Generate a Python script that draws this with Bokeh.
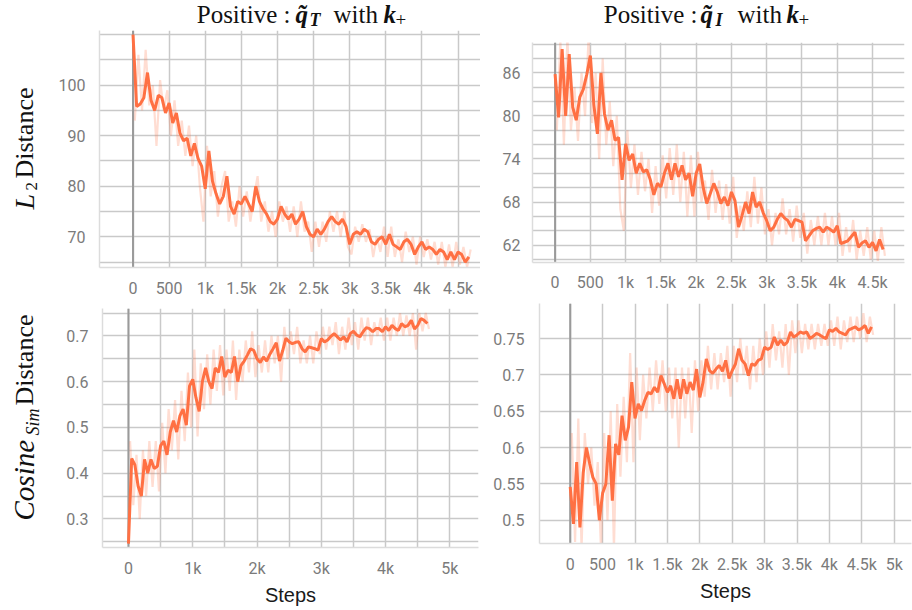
import numpy as np
from bokeh.plotting import figure
from bokeh.layouts import column, row
from bokeh.models import FixedTicker, CustomJSTickFormatter, Span, Range1d
from bokeh.core.properties import value
from bokeh.embed import file_html
from bokeh.resources import INLINE

# ---------------- data ----------------
steps = np.arange(0, 4700, 50)        # smoothed curve steps
raw_steps = np.arange(25, 4700, 50)   # raw (faint) curve steps

l2_qt_smooth = [
    110, 95.8, 96.3, 97.5, 102.5, 97, 95, 98, 97.5, 94.5,
    96.5, 92.5, 94.5, 90.5, 89, 89.5, 86, 88.5, 85.5, 84,
    79.5, 87, 81, 78.5, 76.5, 78, 82, 76, 74.5, 77,
    76.5, 78, 76.5, 75, 80, 77, 75.5, 74.5, 73, 72.5,
    73.5, 76, 74.5, 73.5, 74.5, 72.5, 73.5, 75, 72, 70.5,
    70, 71.5, 70.5, 71.5, 73, 74, 73, 72.5, 73.5, 72,
    68.5, 70.5, 71, 70.5, 71.5, 71, 69, 68.5, 69.5, 70,
    68.5, 70.5, 68.5, 68, 67.5, 69, 69.5, 68.5, 66.5, 68,
    69, 67.5, 68, 67.5, 66.5, 67.5, 67, 65.5, 67, 65.5,
    67, 66.5, 65, 66]
l2_qt_raw = [
    93, 106, 95, 107, 96, 100, 88, 101, 95, 99,
    90, 97, 88, 93, 86, 92, 84, 90, 80, 73,
    88, 78, 83, 74, 80, 83, 73, 77, 72, 80,
    74, 79, 73, 78, 82, 73, 77, 71, 75, 70,
    77, 73, 76, 71, 76, 70, 77, 71, 73, 67,
    73, 68, 73, 69, 75, 71, 75, 70, 75, 68,
    66.5, 72, 69, 72.5, 69, 71.5, 66, 70, 67, 72,
    66, 72, 66, 69.5, 65, 71, 67, 70, 64.5, 70,
    66, 69.5, 65.5, 69, 64.5, 69, 64, 68.5, 64, 69,
    64.5, 68, 64, 67.5]

l2_qi_smooth = [
    85.8, 79.8, 89.3, 80.0, 88.6, 81.2, 79.4, 82.6, 83.7, 85.8,
    88.4, 81.5, 77.5, 86, 80.3, 78, 79.4, 76.6, 77, 71.1,
    76.1, 73.8, 74.7, 72, 73.4, 72.2, 72.5, 71.1, 69, 70.6,
    70.1, 72, 73.4, 71.1, 73.4, 71.5, 73.1, 71.1, 72, 68.8,
    72, 73.3, 70, 67.8, 69.2, 70.6, 69.4, 67.8, 68.7, 67.5,
    69.4, 68.2, 64.5, 66.1, 68, 66.4, 69.4, 67.3, 68, 66.5,
    65.4, 64, 64.5, 65.6, 66.4, 65.8, 65.4, 64.5, 65.6, 65.4,
    65.2, 62.6, 63.3, 64, 64.3, 64.5, 63.8, 64.5, 64.2, 63.8,
    64.7, 62.2, 62.4, 62.6, 63.2, 63.8, 61.7, 62.3, 62.6, 61.7,
    62.4, 61.2, 62.8, 61.4]
l2_qi_raw = [
    78, 90.5, 76, 91, 78, 84, 76.5, 86, 80, 91,
    79, 86, 74, 88, 76, 82, 73, 80, 67, 64,
    78, 70, 76, 69, 75, 69.5, 74, 66.5, 73, 67.5,
    74.5, 68.5, 75.5, 69, 76, 68, 75, 66, 74.5, 66,
    75, 68, 71, 65.5, 72.5, 66.5, 71, 65.5, 70.5, 65,
    71.5, 63, 67.5, 64, 69.5, 64.5, 71.5, 65, 70, 63.5,
    67, 62, 66.5, 63.5, 68.5, 63.5, 67, 62.5, 67.5, 63,
    66.5, 60.8, 65.5, 62, 66, 62, 66.5, 62, 66, 62,
    66.5, 60.5, 64.5, 61, 65.5, 60, 64, 60.5, 64.5, 60,
    64, 59.8, 64.5, 60.5]

cos_qt_smooth = [
    .246, .432, .418, .372, .35, .43, .40, .43, .41, .415,
    .46, .47, .44, .49, .515, .49, .525, .54, .505, .59,
    .605, .565, .535, .6, .63, .6, .585, .63, .62, .655,
    .61, .625, .62, .655, .6, .635, .645, .658, .672, .668,
    .65, .642, .654, .645, .66, .672, .685, .645, .668, .695,
    .687, .683, .686, .687, .672, .665, .676, .674, .672, .669,
    .694, .687, .691, .699, .705, .698, .691, .698, .687, .705,
    .71, .702, .698, .709, .718, .716, .709, .716, .716, .709,
    .72, .712, .723, .716, .712, .727, .72, .723, .734, .715,
    .723, .738, .734, .727]
cos_qt_raw = [
    .47, .33, .44, .30, .45, .35, .47, .37, .47, .36,
    .51, .40, .54, .45, .56, .43, .58, .47, .62, .50,
    .67, .48, .64, .54, .66, .55, .67, .58, .68, .57,
    .67, .58, .69, .56, .67, .60, .69, .62, .71, .61,
    .68, .62, .69, .62, .70, .64, .70, .60, .72, .65,
    .71, .66, .72, .64, .69, .64, .70, .64, .71, .66,
    .72, .67, .72, .68, .73, .66, .72, .67, .74, .68,
    .73, .67, .74, .69, .74, .68, .73, .70, .74, .69,
    .74, .69, .74, .70, .75, .70, .745, .70, .75, .67,
    .75, .71, .75, .715]

cos_qi_smooth = [
    .546, .495, .58, .49, .565, .60, .578, .559, .55, .50,
    .537, .55, .617, .527, .605, .59, .644, .61, .628, .69,
    .64, .66, .651, .665, .676, .674, .683, .676, .699, .688,
    .676, .685, .667, .694, .667, .694, .674, .69, .679, .708,
    .669, .69, .722, .706, .702, .708, .713, .705, .72, .695,
    .706, .715, .736, .72, .715, .699, .715, .713, .72, .722,
    .738, .735, .738, .752, .741, .748, .741, .745, .759, .752,
    .755, .759, .757, .759, .75, .753, .757, .755, .752, .75,
    .762, .76, .764, .759, .757, .755, .762, .764, .766, .762,
    .764, .768, .757, .766]
cos_qi_raw = [
    .62, .47, .64, .46, .62, .55, .60, .52, .58, .46,
    .62, .50, .65, .46, .66, .56, .67, .58, .73, .58,
    .71, .61, .70, .64, .71, .65, .72, .66, .72, .65,
    .71, .64, .71, .60, .71, .64, .71, .62, .72, .65,
    .72, .67, .74, .68, .73, .68, .73, .69, .74, .67,
    .74, .69, .75, .70, .74, .68, .74, .69, .75, .70,
    .76, .71, .77, .72, .76, .71, .77, .70, .775, .73,
    .775, .73, .77, .735, .77, .735, .77, .74, .77, .74,
    .775, .74, .78, .735, .775, .745, .78, .745, .78, .75,
    .785, .745, .78, .755]

# tick positions
x_ticks_500 = [0, 500, 1000, 1500, 2000, 2500, 3000, 3500, 4000, 4500, 5000]
x_ticks_1k = [0, 1000, 2000, 3000, 4000, 5000]
x_minor_1k = [500, 1500, 2500, 3500, 4500]
tl_yticks = [70, 80, 90, 100]
tl_yminor = [65, 75, 85, 95, 105, 110]
tr_yticks = [62, 68, 74, 80, 86]
tr_yminor = [60, 64, 66, 70, 72, 76, 78, 82, 84, 88, 90]
bl_yticks = [0.3, 0.4, 0.5, 0.6, 0.7]
bl_yminor = [0.25, 0.35, 0.45, 0.55, 0.65, 0.75]
br_yticks = [0.5, 0.55, 0.6, 0.65, 0.7, 0.75]

# text pieces: (text, style, size)
title_qt = [("Positive :", "normal", 25), ("q\u0303", "bold italic", 25), ("T", "bold italic", 18),
            ("with", "normal", 25), ("k", "bold italic", 25), ("+", "normal", 19)]
title_qi = [("Positive :", "normal", 25), ("q\u0303", "bold italic", 25), ("I", "bold italic", 18),
            ("with", "normal", 25), ("k", "bold italic", 25), ("+", "normal", 19)]
ylab_l2 = [("L", "italic", 28), ("2", "normal", 17), ("Distance", "normal", 26)]
ylab_cos = [("Cosine", "italic", 29), ("Sim", "italic", 18), ("Distance", "normal", 26)]

ORANGE = "#ff7043"
GRID = "#c9c9c9"
SERIF = "Liberation Serif"
XFMT = "if (tick == 0) return '0'; if (Math.abs(tick) >= 1000) return (tick/1000) + 'k'; return String(tick);"
INT_FMT = "return String(Math.round(tick));"
DEC_FMT = "return String(Math.round(tick*100)/100);"
BASE_SHIFT = 0.33   # em offset between requested and drawn baseline


def no_align(p):
    try:
        p.frame_align = False
    except Exception:
        pass


def text_strip(w, h):
    # blank figure whose data units are pixels (origin bottom-left) used to hold text
    p = figure(width=w, height=h, output_backend="svg", toolbar_location=None,
               x_range=Range1d(0, w), y_range=Range1d(0, h), min_border=0)
    p.axis.visible = False
    p.grid.visible = False
    p.outline_line_color = None
    p.background_fill_color = "white"
    p.border_fill_color = "white"
    no_align(p)
    return p


def add_pieces(p, pieces, anchors, rotated=False):
    # anchors: (x, y, align) of each piece's baseline start, pixel units of the strip
    for (txt, style, size), (ax, ay, align) in zip(pieces, anchors):
        d = BASE_SHIFT * size
        if rotated:
            x, y, ang = ax - d, ay, np.pi / 2
        else:
            x, y, ang = ax, ay + d, 0.0
        p.text(x=[x], y=[y], text=[txt], text_font=value(SERIF), text_font_style=style,
               text_font_size=f"{size}px", text_color="#111111", text_align=align,
               text_baseline="alphabetic", angle=ang)


def panel(xr, yr, size, mb, xticks, xminor, yticks, yminor, yfmt, smooth, raw,
          xlabel=None, y_standoff=14, x_standoff=11):
    p = figure(width=size[0], height=size[1], output_backend="svg", toolbar_location=None,
               x_range=Range1d(*xr), y_range=Range1d(*yr),
               min_border_left=mb[0], min_border_right=mb[1],
               min_border_top=mb[2], min_border_bottom=mb[3])
    no_align(p)
    p.outline_line_color = None
    p.background_fill_color = "white"
    p.border_fill_color = "white"

    p.xaxis.ticker = FixedTicker(ticks=xticks, minor_ticks=xminor)
    p.yaxis.ticker = FixedTicker(ticks=yticks, minor_ticks=yminor)
    p.xaxis.formatter = CustomJSTickFormatter(code=XFMT)
    p.yaxis.formatter = CustomJSTickFormatter(code=yfmt)
    for ax in (p.xaxis[0], p.yaxis[0]):
        ax.major_tick_out = 0
        ax.major_tick_in = 0
        ax.minor_tick_out = 0
        ax.minor_tick_in = 0
        ax.axis_line_color = "#dcdcdc"
        ax.axis_line_width = 1.5
        ax.major_label_text_font = "Roboto"
        ax.major_label_text_font_size = "16px"
        ax.major_label_text_color = "#7b7b7b"
    p.xaxis.major_label_standoff = x_standoff
    p.yaxis.major_label_standoff = y_standoff

    for g in (p.xgrid[0], p.ygrid[0]):
        g.grid_line_color = GRID
        g.grid_line_width = 1.5
        g.minor_grid_line_color = GRID
        g.minor_grid_line_width = 1.5

    if xlabel:
        p.xaxis.axis_label = xlabel
        p.xaxis.axis_label_text_font = "Liberation Sans"
        p.xaxis.axis_label_text_font_style = "normal"
        p.xaxis.axis_label_text_font_size = "20px"
        p.xaxis.axis_label_text_color = "#1a1a1a"
        p.xaxis.axis_label_standoff = 3

    p.add_layout(Span(location=0, dimension="height", line_color="#9a9a9a",
                      line_width=2, level="underlay"))
    p.line(raw_steps, raw, line_color=ORANGE, line_alpha=0.24, line_width=2.2)
    p.line(steps, smooth, line_color=ORANGE, line_width=3)
    return p


# layout: header strip (30 px) / row 1 (270 px) / row 2 (310 px); left label strip 55 px
header = text_strip(912, 30)
ylab_top = text_strip(55, 270)
ylab_bot = text_strip(55, 310)

tl = panel((-464, 4811), (63.92, 110.83), (425, 270), (42, 0, 0, 33),
           x_ticks_500, [], tl_yticks, tl_yminor, INT_FMT, l2_qt_smooth, l2_qt_raw,
           y_standoff=14)
tr = panel((-320, 4953), (59.58, 90.22), (432, 270), (52, 8, 12, 38),
           x_ticks_500, [], tr_yticks, tr_yminor, INT_FMT, l2_qi_smooth, l2_qi_raw,
           y_standoff=12, x_standoff=10)
bl = panel((-404, 5446), (0.2375, 0.7599), (425, 310), (47, 2, 8, 63),
           x_ticks_1k, x_minor_1k, bl_yticks, bl_yminor, DEC_FMT, cos_qt_smooth, cos_qt_raw,
           xlabel="Steps", y_standoff=14)
br = panel((-474, 5267), (0.468, 0.7982), (432, 310), (59, 1, 3, 67),
           x_ticks_500, [], br_yticks, [], DEC_FMT, cos_qi_smooth, cos_qi_raw,
           xlabel="Steps", y_standoff=15)

# titles (header strip: pixel units, y up from the strip's bottom; baseline ~22.5 px from top)
add_pieces(header, title_qt, [(290, 7.5, "right"), (295, 7.5, "left"), (309, 5, "left"),
                              (333, 7.5, "left"), (383, 7.5, "left"), (395, 5.2, "left")])
add_pieces(header, title_qi, [(697, 7.5, "right"), (700, 7.5, "left"), (715, 5, "left"),
                              (737, 7.5, "left"), (786, 7.5, "left"), (798, 5.2, "left")])
# rotated y-axis labels (label strips: pixel units)
add_pieces(ylab_top, ylab_l2, [(33, 91, "left"), (37, 110, "left"), (33, 122, "left")], rotated=True)
add_pieces(ylab_bot, ylab_cos, [(33, 90, "left"), (38, 175, "left"), (33, 205, "left")], rotated=True)

layout = column(header, row(ylab_top, tl, tr), row(ylab_bot, bl, br))
open("out.html", "w").write(file_html(layout, INLINE))
